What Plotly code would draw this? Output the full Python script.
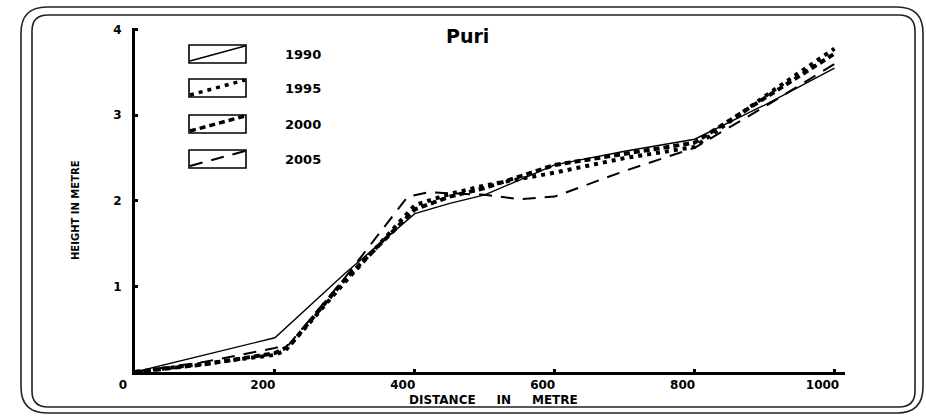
import plotly.graph_objects as go

# ---------------- data ----------------
years = ["1990", "1995", "2000", "2005"]

dist_1990 = [0, 100, 200, 300, 400, 450, 500, 600, 700, 800, 900, 1000]
height_1990 = [0, 0.20, 0.40, 1.15, 1.85, 1.97, 2.07, 2.42, 2.58, 2.72, 3.12, 3.55]

dist_1995 = [0, 100, 200, 215, 300, 400, 450, 500, 600, 700, 800, 900, 1000]
height_1995 = [0, 0.10, 0.20, 0.25, 1.05, 1.95, 2.08, 2.18, 2.33, 2.50, 2.63, 3.22, 3.78]

dist_2000 = [0, 100, 200, 220, 300, 400, 450, 500, 600, 700, 800, 900, 1000]
height_2000 = [0, 0.09, 0.22, 0.30, 1.08, 1.90, 2.05, 2.15, 2.42, 2.55, 2.68, 3.20, 3.72]

dist_2005 = [0, 100, 200, 220, 300, 390, 420, 500, 550, 600, 700, 800, 900, 1000]
height_2005 = [0, 0.12, 0.28, 0.32, 1.10, 2.05, 2.10, 2.07, 2.02, 2.05, 2.35, 2.62, 3.10, 3.60]

x_tick_vals = [0, 200, 400, 600, 800, 1000]
x_tick_text = ["0", "200", "400", "600", "800", "1000"]
y_tick_vals = [1, 2, 3, 4]
y_tick_text = ["1", "2", "3", "4"]

title_text = "Puri"
GAP = "\u00a0" * 5
x_title = f"DISTANCE{GAP}IN{GAP}METRE"
y_title = "HEIGHT IN METRE"

# ---------------- styles ----------------
FONT = "DejaVu Sans"
styles = {
    "1990": dict(width=1.4, dash="solid"),
    "1995": dict(width=4, dash="4px,5px"),
    "2000": dict(width=4, dash="6px,4px"),
    "2005": dict(width=2, dash="13px,9px"),
}
series = {
    "1990": (dist_1990, height_1990),
    "1995": (dist_1995, height_1995),
    "2000": (dist_2000, height_2000),
    "2005": (dist_2005, height_2005),
}

# layout geometry (pixels)
W, H = 926, 416
L, R, T, B = 135, 845, 28, 372


def px(xp):
    return (xp - L) / (R - L)


def py(yp):
    return (B - yp) / (B - T)


fig = go.Figure()
for yr in ["2005", "1990", "2000", "1995"]:
    xs, ys = series[yr]
    st = styles[yr]
    fig.add_trace(go.Scatter(
        x=xs, y=ys, mode="lines", name=yr, showlegend=False,
        line=dict(color="black", width=st["width"], dash=st["dash"]),
    ))

shapes = []


def rounded_rect(x0, y0, x1, y1, r, width):
    rx = r / (R - L)
    ry = r / (B - T)
    X0, X1 = px(x0), px(x1)
    Y0, Y1 = py(y0), py(y1)  # Y0 top, Y1 bottom
    path = (f"M {X0 + rx},{Y0} L {X1 - rx},{Y0} Q {X1},{Y0} {X1},{Y0 - ry} "
            f"L {X1},{Y1 + ry} Q {X1},{Y1} {X1 - rx},{Y1} "
            f"L {X0 + rx},{Y1} Q {X0},{Y1} {X0},{Y1 + ry} "
            f"L {X0},{Y0 - ry} Q {X0},{Y0} {X0 + rx},{Y0} Z")
    return dict(type="path", xref="paper", yref="paper", path=path,
                line=dict(color="#222", width=width), layer="below")


shapes.append(rounded_rect(21, 7, 923, 413, 26, 1.6))
shapes.append(rounded_rect(32, 15, 915, 407, 16, 1.6))

# legend boxes
row_centers = [54, 88, 124, 159]
bx0, bx1, bh = 189, 246, 18
annotations = []
for yr, cy in zip(years, row_centers):
    st = styles[yr]
    shapes.append(dict(type="rect", xref="paper", yref="paper",
                       x0=px(bx0), x1=px(bx1), y0=py(cy + bh / 2), y1=py(cy - bh / 2),
                       line=dict(color="black", width=1.6)))
    shapes.append(dict(type="line", xref="paper", yref="paper",
                       x0=px(bx0 + 1), y0=py(cy + bh / 2 - 2), x1=px(bx1 - 1), y1=py(cy - bh / 2 + 1),
                       line=dict(color="black", width=min(st["width"], 3.5), dash=st["dash"])))
    annotations.append(dict(text=yr, xref="paper", yref="paper", x=px(303), y=py(cy),
                            showarrow=False, xanchor="center", yanchor="middle",
                            font=dict(family=FONT, size=13, color="black", weight="bold")))

annotations.append(dict(text=title_text, xref="paper", yref="paper", x=px(467), y=py(36),
                        showarrow=False, xanchor="center", yanchor="middle",
                        font=dict(family=FONT, size=19, color="black", weight="bold")))
annotations.append(dict(text=x_title, xref="paper", yref="paper", x=px(493), y=py(400),
                        showarrow=False, xanchor="center", yanchor="middle",
                        font=dict(family=FONT, size=12, color="black", weight="bold")))
annotations.append(dict(text=y_title, xref="paper", yref="paper", x=px(75), y=py(210),
                        showarrow=False, xanchor="center", yanchor="middle", textangle=-90,
                        font=dict(family=FONT, size=10, color="black", weight="bold")))

fig.update_layout(
    width=W, height=H,
    margin=dict(l=L, r=W - R, t=T, b=H - B, pad=0),
    paper_bgcolor="white", plot_bgcolor="white",
    showlegend=False,
    shapes=shapes, annotations=annotations,
    xaxis=dict(range=[0, 1015], showgrid=False, zeroline=False, showline=True,
               linecolor="black", linewidth=3, ticks="inside", ticklen=3, tickwidth=3,
               tickcolor="black", tickvals=x_tick_vals, ticktext=x_tick_text,
               ticklabelshift=-12, ticklabelstandoff=0,
               tickfont=dict(family=FONT, size=12, color="black", weight="bold")),
    yaxis=dict(range=[0, 4.02], showgrid=False, zeroline=False, showline=True,
               linecolor="black", linewidth=3, ticks="inside", ticklen=3, tickwidth=3,
               tickcolor="black", tickvals=y_tick_vals, ticktext=y_tick_text,
               ticklabelstandoff=8,
               tickfont=dict(family=FONT, size=12, color="black", weight="bold")),
)

fig.write_html(
    "out.html",
    config={"displayModeBar": False},
    post_script="document.body.style.margin='0px';document.body.style.overflow='hidden';",
)
